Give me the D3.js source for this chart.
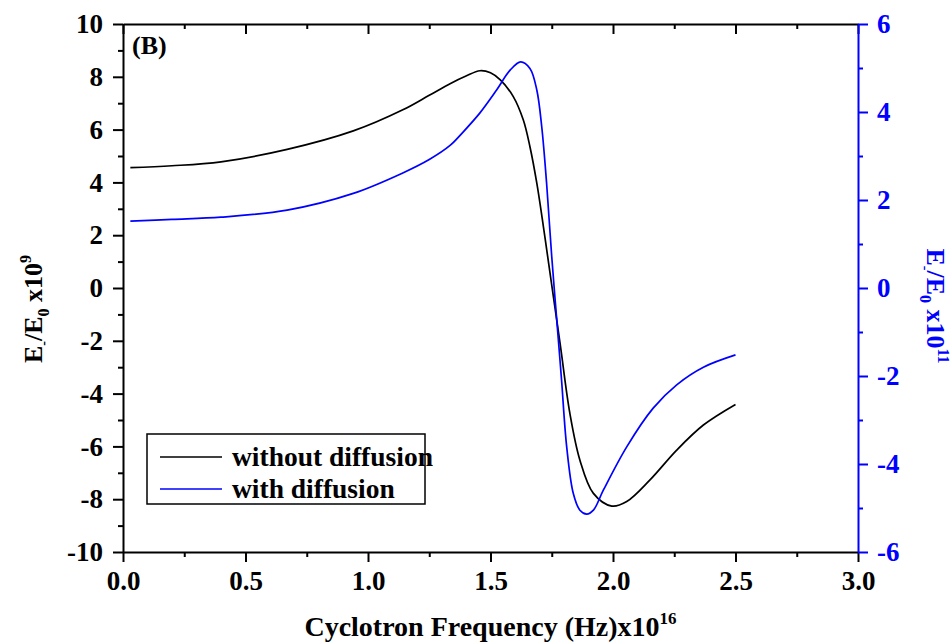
<!DOCTYPE html>
<html>
<head>
<meta charset="utf-8">
<script src="https://cdn.jsdelivr.net/npm/d3@7"></script>
<style>
  body { margin: 0; background: #fff; }
  svg text { font-family: "Liberation Serif", "Times New Roman", serif; font-weight: bold; }
</style>
</head>
<body>
<svg id="chart" width="952" height="642"></svg>
<script>
// without diffusion (left axis, x10^9)
const noDiffFreq = [0.03, 0.2, 0.4, 0.67, 0.94, 1.14, 1.25, 1.335, 1.40, 1.457, 1.50, 1.54, 1.593, 1.634, 1.661, 1.689, 1.716, 1.743, 1.784, 1.824, 1.865, 1.92, 1.995, 2.056, 2.151, 2.26, 2.369, 2.5];
const noDiffField = [4.56, 4.63, 4.78, 5.25, 5.95, 6.74, 7.30, 7.74, 8.03, 8.23, 8.15, 7.88, 7.25, 6.36, 5.35, 3.97, 2.32, 0.56, -2.10, -4.75, -6.52, -7.78, -8.26, -8.09, -7.27, -6.14, -5.19, -4.41];

// with diffusion (right axis, x10^11)
const diffFreq = [0.03, 0.2, 0.4, 0.67, 0.94, 1.14, 1.25, 1.335, 1.389, 1.457, 1.525, 1.58, 1.623, 1.661, 1.689, 1.709, 1.729, 1.75, 1.777, 1.79, 1.811, 1.838, 1.865, 1.893, 1.92, 1.961, 2.056, 2.164, 2.26, 2.369, 2.5];
const diffField = [1.52, 1.56, 1.61, 1.77, 2.15, 2.61, 2.92, 3.24, 3.55, 3.98, 4.5, 4.95, 5.14, 4.99, 4.5, 3.67, 2.38, 0.71, -1.18, -2.09, -3.61, -4.67, -5.05, -5.14, -5.05, -4.59, -3.61, -2.73, -2.20, -1.80, -1.52];

const xTicks = [0, 0.5, 1.0, 1.5, 2.0, 2.5, 3.0];
const xMinor = [0.25, 0.75, 1.25, 1.75, 2.25, 2.75];
const leftTicks = [-10, -8, -6, -4, -2, 0, 2, 4, 6, 8, 10];
const leftMinor = [-9, -7, -5, -3, -1, 1, 3, 5, 7, 9];
const rightTicks = [-6, -4, -2, 0, 2, 4, 6];
const rightMinor = [-5, -3, -1, 1, 3, 5];

const seriesNames = ['without diffusion', 'with diffusion'];
const blue = '#0000ff';

const margin = { top: 24, right: 94, bottom: 90, left: 123 };
const width = 952, height = 642;

const svg = d3.select('#chart');

const x = d3.scaleLinear().domain([0, 3]).range([margin.left, width - margin.right]);
const yL = d3.scaleLinear().domain([-10, 10]).range([height - margin.bottom, margin.top]);
const yR = d3.scaleLinear().domain([-6, 6]).range([height - margin.bottom, margin.top]);

const fmt = d => String(d);
const tickFont = 27;

function styleAxis(g, color) {
  g.select('.domain').attr('stroke', color).attr('stroke-width', 2);
  g.selectAll('.tick line').attr('stroke', color).attr('stroke-width', 2);
  g.selectAll('.tick text').attr('fill', color).style('font-size', tickFont + 'px');
}

// bottom
const gx = svg.append('g').attr('transform', `translate(0,${yL(-10)})`)
  .call(d3.axisBottom(x).tickValues(xTicks).tickFormat(d3.format('.1f')).tickSize(10).tickSizeOuter(0).tickPadding(9));
styleAxis(gx, '#000');
svg.append('g').attr('transform', `translate(0,${yL(-10)})`)
  .call(d3.axisBottom(x).tickValues(xMinor).tickFormat('').tickSize(5))
  .call(g => { g.select('.domain').remove(); styleAxis(g, '#000'); });

// top (inward ticks, no labels)
const gt = svg.append('g').attr('transform', `translate(0,${yL(10)})`)
  .call(d3.axisTop(x).tickValues(xTicks).tickFormat('').tickSize(-10).tickSizeOuter(0));
styleAxis(gt, '#000');
svg.append('g').attr('transform', `translate(0,${yL(10)})`)
  .call(d3.axisTop(x).tickValues(xMinor).tickFormat('').tickSize(-5))
  .call(g => { g.select('.domain').remove(); styleAxis(g, '#000'); });

// left
const gl = svg.append('g').attr('transform', `translate(${x(0)},0)`)
  .call(d3.axisLeft(yL).tickValues(leftTicks).tickFormat(fmt).tickSize(10).tickSizeOuter(0).tickPadding(10));
styleAxis(gl, '#000');
svg.append('g').attr('transform', `translate(${x(0)},0)`)
  .call(d3.axisLeft(yL).tickValues(leftMinor).tickFormat('').tickSize(5))
  .call(g => { g.select('.domain').remove(); styleAxis(g, '#000'); });

// right
const gr = svg.append('g').attr('transform', `translate(${x(3)},0)`)
  .call(d3.axisRight(yR).tickValues(rightTicks).tickFormat(fmt).tickSize(10).tickSizeOuter(0).tickPadding(9));
styleAxis(gr, blue);
svg.append('g').attr('transform', `translate(${x(3)},0)`)
  .call(d3.axisRight(yR).tickValues(rightMinor).tickFormat('').tickSize(5))
  .call(g => { g.select('.domain').remove(); styleAxis(g, blue); });

// curves
const lineL = d3.line().x(d => x(d[0])).y(d => yL(d[1])).curve(d3.curveCatmullRom.alpha(0.5));
const lineR = d3.line().x(d => x(d[0])).y(d => yR(d[1])).curve(d3.curveCatmullRom.alpha(0.5));

svg.append('path')
  .datum(d3.zip(noDiffFreq, noDiffField))
  .attr('d', lineL).attr('fill', 'none').attr('stroke', '#000').attr('stroke-width', 1.7);
svg.append('path')
  .datum(d3.zip(diffFreq, diffField))
  .attr('d', lineR).attr('fill', 'none').attr('stroke', blue).attr('stroke-width', 1.7);

// panel tag
svg.append('text').attr('x', 132).attr('y', 54).style('font-size', '26px').text('(B)');

// axis titles
const xt = svg.append('text').attr('x', (x(0) + x(3)) / 2).attr('y', 636)
  .attr('text-anchor', 'middle').style('font-size', '28px');
xt.append('tspan').text('Cyclotron Frequency (Hz)x10');
xt.append('tspan').attr('dy', -12).style('font-size', '17px').text('16');

function fieldTitle(sel, exp) {
  sel.append('tspan').text('E');
  sel.append('tspan').attr('dy', 6).style('font-size', '14px').text('-');
  sel.append('tspan').attr('dy', -6).text('/E');
  sel.append('tspan').attr('dy', 7).style('font-size', '16px').text('0');
  sel.append('tspan').attr('dy', -7).text(' x10');
  sel.append('tspan').attr('dy', -11).style('font-size', '16px').text(exp);
}

const ylt = svg.append('text').attr('transform', 'translate(42,309) rotate(-90)')
  .attr('text-anchor', 'middle').style('font-size', '26px');
fieldTitle(ylt, '9');

const yrt = svg.append('text').attr('transform', 'translate(927,306) rotate(90)')
  .attr('text-anchor', 'middle').attr('fill', blue).style('font-size', '26px');
fieldTitle(yrt, '11');

// legend
const legend = svg.append('g');
legend.append('rect').attr('x', 147).attr('y', 434).attr('width', 278).attr('height', 70)
  .attr('fill', '#fff').attr('stroke', '#000').attr('stroke-width', 1.5);
[['#000', 457], [blue, 489]].forEach(([c, ly], i) => {
  legend.append('line').attr('x1', 160).attr('x2', 222).attr('y1', ly).attr('y2', ly)
    .attr('stroke', c).attr('stroke-width', 1.6);
  legend.append('text').attr('x', 232).attr('y', ly).attr('dy', '0.32em')
    .style('font-size', '27.5px').text(seriesNames[i]);
});
</script>
</body>
</html>
